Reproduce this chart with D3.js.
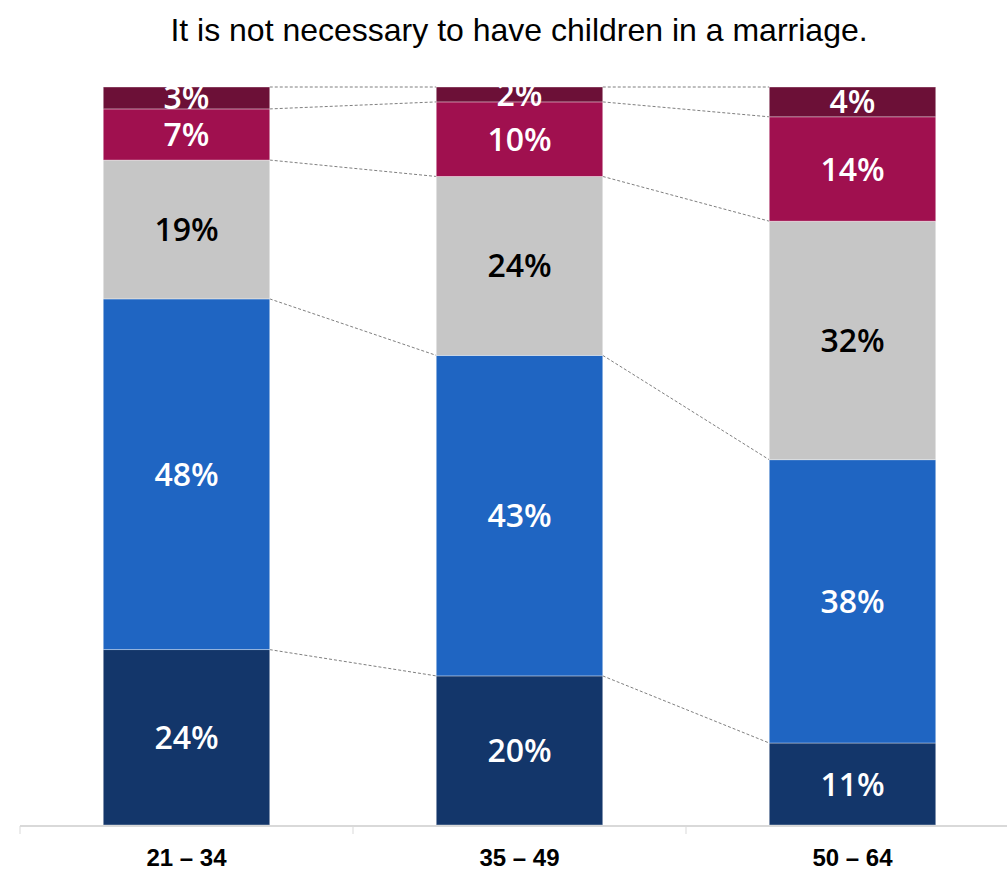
<!DOCTYPE html>
<html>
<head>
<meta charset="utf-8">
<script src="https://cdn.jsdelivr.net/npm/d3@7"></script>
<style>
  html, body { margin: 0; padding: 0; background: #fff; }
  svg { display: block; }
</style>
</head>
<body>
<svg id="chart" width="1007" height="870"></svg>
<script>
// Age groups and the share of answers in each, stacked from the bottom up
const ageGroups = ["21 – 34", "35 – 49", "50 – 64"];
const answerKeys = ["a1", "a2", "a3", "a4", "a5"];
const a1 = [24, 20, 11];
const a2 = [48, 43, 38];
const a3 = [19, 24, 32];
const a4 = [7, 10, 14];
const a5 = [3, 2, 4];
const titleText = "It is not necessary to have children in a marriage.";

const colors = ["#13366A", "#1F65C2", "#C6C6C6", "#A0104F", "#6C1037"];
const textColors = ["#fff", "#fff", "#000", "#fff", "#fff"];

const series = [a1, a2, a3, a4, a5];
const rows = ageGroups.map((g, i) => {
  const r = { group: g };
  answerKeys.forEach((k, j) => r[k] = series[j][i]);
  return r;
});

const svg = d3.select("#chart");
const margin = { left: 20, right: -12, top: 87, bottom: 45 };
const W = 1007, H = 870;
const plotTop = margin.top, plotBottom = H - margin.bottom;

const x = d3.scaleBand().domain(ageGroups)
  .range([margin.left, W - margin.right]).paddingInner(0).paddingOuter(0);
const barW = x.bandwidth() * 0.5;
const barX = g => x(g) + (x.bandwidth() - barW) / 2;

const y = d3.scaleLinear().domain([0, 1]).range([plotBottom, plotTop]);

const stacked = d3.stack().keys(answerKeys).offset(d3.stackOffsetExpand)(rows);

// Title
svg.append("text")
  .attr("x", 519).attr("y", 41)
  .attr("text-anchor", "middle")
  .attr("font-family", "'Liberation Sans', Arial, sans-serif")
  .attr("font-size", 32)
  .attr("fill", "#000")
  .text(titleText);

// Dashed connectors between cumulative boundaries of neighbouring bars
const conn = svg.append("g")
  .attr("stroke", "#7f7f7f").attr("stroke-width", 1)
  .attr("stroke-dasharray", "3,2").attr("fill", "none");
stacked.forEach((s, j) => {
  if (j === 0) return;
  for (let i = 0; i < ageGroups.length - 1; i++) {
    conn.append("line")
      .attr("x1", barX(ageGroups[i]) + barW).attr("y1", y(s[i][0]))
      .attr("x2", barX(ageGroups[i + 1])).attr("y2", y(s[i + 1][0]));
  }
});
const topS = stacked[stacked.length - 1];
for (let i = 0; i < ageGroups.length - 1; i++) {
  conn.append("line")
    .attr("x1", barX(ageGroups[i]) + barW).attr("y1", y(topS[i][1]))
    .attr("x2", barX(ageGroups[i + 1])).attr("y2", y(topS[i + 1][1]));
}

// Bars
const layers = svg.append("g").selectAll("g").data(stacked).join("g")
  .attr("fill", (d, j) => colors[j]);
layers.selectAll("rect").data(d => d).join("rect")
  .attr("x", d => barX(d.data.group))
  .attr("y", d => y(d[1]))
  .attr("width", barW)
  .attr("height", d => y(d[0]) - y(d[1]))
  .attr("stroke", "rgba(255,255,255,0.45)")
  .attr("stroke-width", 0.8);

// Value labels, clipped to the plot area
svg.append("clipPath").attr("id", "plotClip")
  .append("rect").attr("x", 0).attr("y", plotTop).attr("width", W).attr("height", plotBottom - plotTop);
const labels = svg.append("g").attr("clip-path", "url(#plotClip)");
stacked.forEach((s, j) => {
  s.forEach((d, i) => {
    labels.append("text")
      .attr("x", barX(d.data.group) + barW / 2)
      .attr("y", (y(d[0]) + y(d[1])) / 2)
      .attr("dy", "0.36em")
      .attr("text-anchor", "middle")
      .attr("font-family", "'Open Sans', 'Noto Sans', sans-serif")
      .attr("font-weight", 600)
      .attr("font-size", 32)
      .attr("fill", textColors[j])
      .text(series[j][i] + "%");
  });
});

// Category axis
const axis = svg.append("g").attr("transform", `translate(0,${plotBottom + 1})`)
  .call(d3.axisBottom(x).tickSize(0).tickPadding(0));
axis.select(".domain").attr("stroke", "#d9d9d9").attr("stroke-width", 2)
  .attr("d", `M${margin.left},0H${W}`);
axis.selectAll(".tick text")
  .attr("y", 31)
  .attr("dy", "0.36em")
  .attr("font-family", "'Liberation Sans', Arial, sans-serif")
  .attr("font-weight", "bold")
  .attr("font-size", 24)
  .attr("fill", "#000");
const sepX = ageGroups.map(g => x(g));
axis.selectAll("line.sep").data(sepX).join("line").attr("class", "sep")
  .attr("x1", d => d).attr("x2", d => d)
  .attr("y1", 0).attr("y2", 8)
  .attr("stroke", "#d9d9d9").attr("stroke-width", 1);
</script>
</body>
</html>
